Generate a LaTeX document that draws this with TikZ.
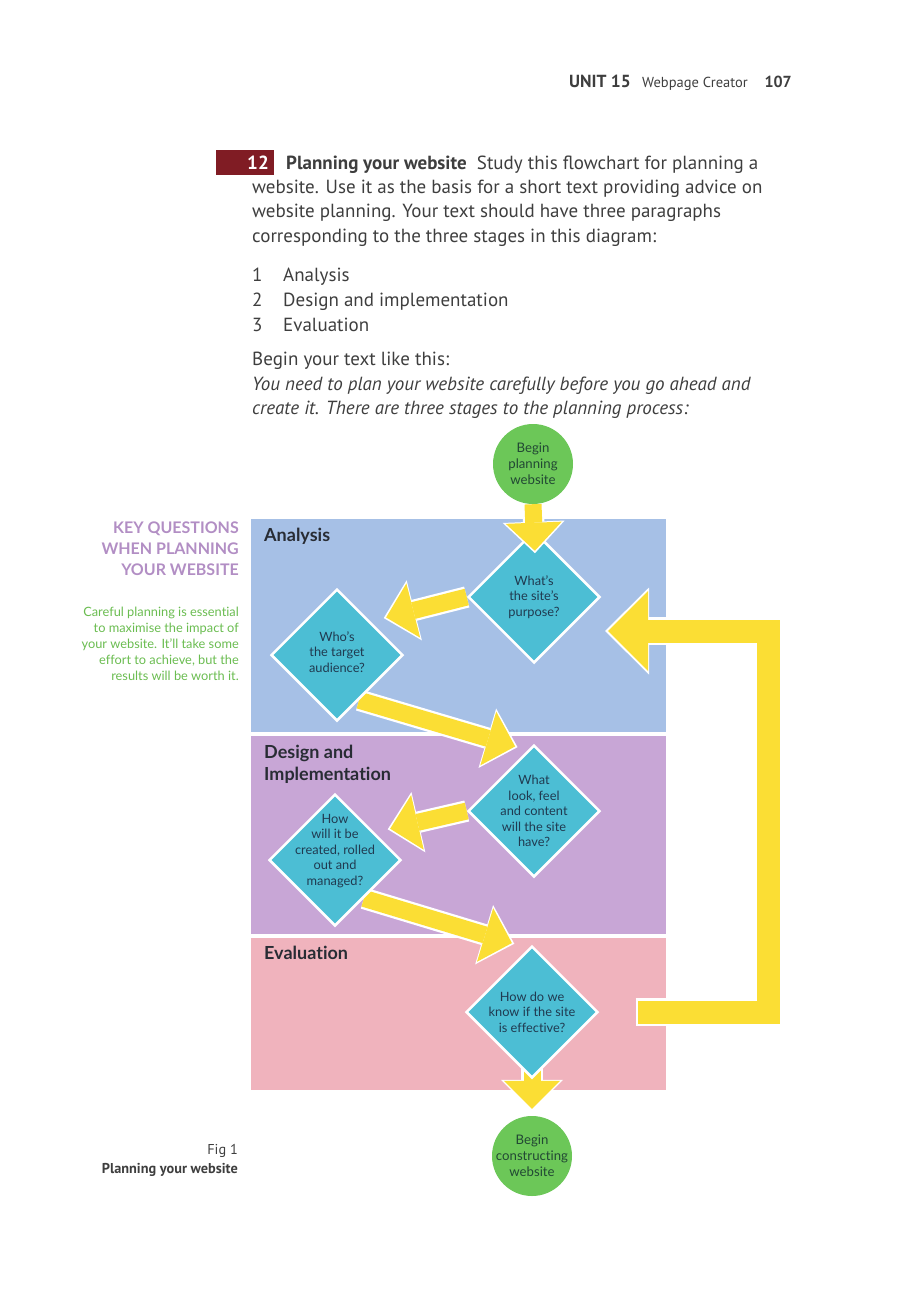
\documentclass[tikz,border=0pt]{standalone}
\usepackage{fontspec}
\setmainfont{PT Sans}
\newfontfamily\chartfont[Ligatures={NoCommon}]{Lato}
\usetikzlibrary{shapes.geometric,arrows.meta}
\definecolor{bodygray}{RGB}{62,62,62}
\definecolor{exmaroon}{RGB}{128,28,36}
\definecolor{panelblue}{RGB}{166,192,230}
\definecolor{panelpurple}{RGB}{200,166,214}
\definecolor{panelpink}{RGB}{240,179,189}
\definecolor{qcyan}{RGB}{76,190,212}
\definecolor{qnavy}{RGB}{32,58,80}
\definecolor{cgreen}{RGB}{108,199,88}
\definecolor{cdark}{RGB}{34,72,52}
\definecolor{flowyellow}{RGB}{251,222,52}
\definecolor{stagetext}{RGB}{40,44,52}
\definecolor{keypurple}{RGB}{178,142,196}
\definecolor{keygreen}{RGB}{106,188,80}
\pgfdeclarelayer{panels}
\pgfdeclarelayer{flows}
\pgfsetlayers{panels,flows,main}
\tikzset{
  body/.style={anchor=base west,inner sep=0pt,text=bodygray,font=\fontsize{19}{22}\selectfont},
  side/.style={anchor=base east,inner sep=0pt,font=\chartfont\fontsize{12.8}{15}\selectfont,text=keygreen},
  stage/.style={anchor=base west,inner sep=0pt,font=\chartfont\bfseries\fontsize{18}{21}\selectfont,text=stagetext},
  qbox/.style={diamond,aspect=1,minimum size=132pt,inner sep=0pt,fill=qcyan,draw=white,line width=2.5pt},
  qtext/.style={align=center,inner sep=0pt,font=\chartfont\fontsize{12.8}{15.5}\selectfont,text=qnavy},
  ends/.style={circle,minimum size=80pt,inner sep=0pt,fill=cgreen},
  endtext/.style={align=center,inner sep=0pt,font=\chartfont\fontsize{13.2}{16}\selectfont,text=cdark},
  flow/.style={draw=flowyellow,line width=17pt,shorten >=#1,
    -{Triangle[width=56pt,length=28pt,line width=0pt]},
    preaction={draw=white,line width=21.5pt,shorten >=#1-2.5pt,
      -{Triangle[width=62pt,length=31.5pt,line width=0pt]}}},
  flow/.default=0pt,
  backflow/.style={draw=flowyellow,line width=23pt,line join=miter,
    -{Triangle[width=80pt,length=40pt,line width=0pt]},
    preaction={draw=white,line width=27.5pt,shorten >=-3pt,shorten <=-2.5pt,
      -{Triangle[width=87pt,length=44pt,line width=0pt]}}}
}
\begin{document}
\begin{tikzpicture}[x=1pt,y=-1pt]
\useasboundingbox (0,0) rectangle (900,1295);
% running head
\node[anchor=base east,inner sep=0pt,text=bodygray,font=\bfseries\fontsize{16}{18}\selectfont] (pageno) at (792,88) {107};
\node[anchor=base east,inner sep=0pt,text=bodygray,font=\fontsize{14.5}{18}\selectfont] (unitname) at (748,88) {Webpage Creator};
\node[anchor=base east,inner sep=0pt,text=bodygray,font=\bfseries\fontsize{17.5}{18}\selectfont] (unit) at (631,88) {UNIT 15};
% task text
\fill[exmaroon] (216,150) rectangle (274,175);
\node[inner sep=0pt,text=white,font=\bfseries\fontsize{19}{20}\selectfont] (exno) at (258,163) {12};
\node[body] (line1) at (286,169) {\textbf{Planning your website}\ \ Study this flowchart for planning a};
\foreach \y/\t in {193/{website. Use it as the basis for a short text providing advice on},
  217/{website planning. Your text should have three paragraphs},
  242/{corresponding to the three stages in this diagram:}}
  \node[body] (line\y) at (252,\y) {\t};
\foreach \n/\t in {1/Analysis,2/Design and implementation,3/Evaluation}{
  \node[body] (num\n) at (252,256+25*\n) {\n};
  \node[body] (item\n) at (283,256+25*\n) {\t};}
\node[body] (begin) at (252,365) {Begin your text like this:};
\node[body,font=\itshape\fontsize{19}{22}\selectfont] (ital1) at (252,390) {You need to plan your website carefully before you go ahead and};
\node[body,font=\itshape\fontsize{19}{22}\selectfont] (ital2) at (252,414) {create it. There are three stages to the planning process:};
% side column
\foreach \y/\t in {533/KEY QUESTIONS,554/WHEN PLANNING,575/YOUR WEBSITE}
  \node[side,text=keypurple,font=\chartfont\bfseries\fontsize{16}{18}\selectfont] (key\y) at (239,\y) {\t};
\foreach \y/\t in {616/{Careful planning is essential},632/{to maximise the impact of},
  648/{your website. It’ll take some},664/{effort to achieve, but the},680/{results will be worth it.}}
  \node[side] (note\y) at (239,\y) {\t};
\node[body,anchor=base east,font=\fontsize{14.3}{16}\selectfont] (fig) at (238,1154) {Fig 1};
\node[body,anchor=base east,font=\bfseries\fontsize{14.3}{16}\selectfont] (figname) at (238,1173) {Planning your website};
% stages
\begin{pgfonlayer}{panels}
\fill[panelblue] (251,519) rectangle (666,732);
\fill[panelpurple] (251,736) rectangle (666,934);
\fill[panelpink] (251,938) rectangle (666,1090);
\end{pgfonlayer}
\node[stage] (analysis) at (264,541) {Analysis};
\node[stage] (design) at (264,758) {Design and};
\node[stage] (impl) at (264,780) {Implementation};
\node[stage] (evaluation) at (264,959) {Evaluation};
% questions
\foreach \n/\p/\dy/\t in {purpose/{534,597}/0/{What’s\\the site’s\\purpose?},
  audience/{337,655}/3/{Who’s\\the target\\audience?},
  look/{534,811}/0/{What\\look, feel\\and content\\will the site\\have?},
  build/{335,860}/9/{How\\will it be\\created, rolled\\out and\\managed?},
  measure/{532,1012}/0/{How do we\\know if the site\\is effective?}}{
  \node[qbox] (\n) at (\p) {};
  \node[qtext,yshift=\dy pt] (\n-t) at (\n) {\t};}
\node[ends] (start) at (533,464) {};
\node[endtext] (start-t) at (start) {Begin\\planning\\website};
\node[ends] (finish) at (532,1156) {};
\node[endtext] (finish-t) at (finish) {Begin\\constructing\\website};
% arrows
\draw[flow=-21pt] (start.south) -- (purpose.north);
\begin{pgfonlayer}{flows}
\draw[flow=16pt] (purpose.west) -- (audience.north east);
\draw[flow=13pt] (audience.-64) -- (look.96);
\draw[flow=16pt] (look.west) -- (build.35);
\draw[flow=17.5pt] (build.-53) -- (measure.93);
\draw[flow=7pt,shorten <=-12pt] (measure.south) -- (finish.north);
\coordinate (loopout) at (638,1012);
\coordinate (loopin) at (608,631);
\draw[backflow] (loopout) -- ++(130.5,0) |- (loopin);
\end{pgfonlayer}
\end{tikzpicture}
\end{document}
